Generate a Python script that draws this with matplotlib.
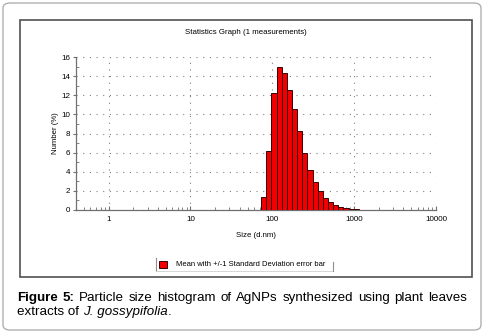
import numpy as np
import matplotlib
matplotlib.use("Agg")
import matplotlib.pyplot as plt
from matplotlib.patches import Rectangle, FancyBboxPatch
from matplotlib.ticker import FixedLocator, NullFormatter

plt.rcParams['font.family'] = ['Liberation Sans', 'DejaVu Sans']

# size classes (d.nm), left edges of the bars plus the last right edge
size_edges = [73.1, 84.5, 97.6, 112.8, 130.4, 150.7, 174.1, 201.2, 232.5, 268.7,
              310.6, 358.9, 414.7, 479.3, 553.9, 640.1, 739.7, 854.8, 988.2, 1142, 1320]
# number (%) in each class
number_pct = [1.33, 6.2, 12.2, 15.0, 14.3, 12.5, 10.6, 8.3, 6.0, 4.2,
              2.9, 1.95, 1.3, 0.8, 0.55, 0.35, 0.2, 0.15, 0.08, 0.03]

x_ticks = [1, 10, 100, 1000, 10000]
x_ticklabels = ['1', '10', '100', '1000', '10000']
y_ticks = [0, 2, 4, 6, 8, 10, 12, 14, 16]

W, H = 484, 336
fig = plt.figure(figsize=(W / 100, H / 100), dpi=100)
fig.patch.set_facecolor('white')

def fx(px):
    return px / W

def fy(py):
    return 1 - py / H

# outer rounded frame and inner chart box
fig.patches.append(FancyBboxPatch((fx(3), fy(330)), fx(478), (327) / H,
                                  boxstyle="round,pad=0,rounding_size=0.015",
                                  transform=fig.transFigure, fill=False,
                                  edgecolor='#b0b0b0', linewidth=1.0))
fig.patches.append(Rectangle((fx(20), fy(277)), fx(452), 257 / H,
                             transform=fig.transFigure, fill=False,
                             edgecolor='#505050', linewidth=1.2))

ax = fig.add_axes([fx(76), fy(210), fx(360), 153 / H])
edges = np.array(size_edges)
ax.bar(edges[:-1], number_pct, width=np.diff(edges), align='edge',
       color='#f00000', edgecolor='#3a0000', linewidth=0.7, zorder=3)

ax.set_xscale('log')
ax.set_xlim(0.4, 10000)
ax.set_ylim(0, 16)
ax.set_xticks(x_ticks)
ax.set_xticklabels(x_ticklabels)
ax.xaxis.set_minor_locator(FixedLocator([m * 10.0 ** e for e in range(-1, 4) for m in range(2, 10)]))
ax.xaxis.set_minor_formatter(NullFormatter())
ax.set_yticks(y_ticks)
ax.yaxis.set_minor_locator(FixedLocator([1, 3, 5, 7, 9, 11, 13, 15]))

for s in ['top', 'right']:
    ax.spines[s].set_visible(False)
for s in ['left', 'bottom']:
    ax.spines[s].set_color('#707070')
    ax.spines[s].set_linewidth(0.9)

ax.tick_params(axis='both', which='major', labelsize=5.8, colors='#707070',
               labelcolor='black', width=0.8)
ax.tick_params(axis='x', which='major', direction='in', length=3, pad=4)
ax.tick_params(axis='x', which='minor', direction='in', length=2, color='#707070')
ax.tick_params(axis='y', which='major', direction='out', length=2.5, pad=1.5)
ax.tick_params(axis='y', which='minor', direction='in', length=2, color='#707070')

ax.grid(True, which='major', linestyle=(0, (1, 5)), color='#808080', linewidth=0.8, zorder=0)
ax.set_axisbelow(True)

ax.set_xlabel('Size (d.nm)', fontsize=5.6, labelpad=7)
ax.set_ylabel('Number (%)', fontsize=5.6, labelpad=2)

fig.text(fx(246), fy(33), 'Statistics Graph (1 measurements)', ha='center', va='center', fontsize=5.7)

# legend
fig.patches.append(Rectangle((fx(159), fy(268)), fx(8), 7 / H, transform=fig.transFigure,
                             facecolor='#f00000', edgecolor='#3a0000', linewidth=0.7))
fig.text(fx(176), fy(264.5), 'Mean with +/-1 Standard Deviation error bar',
         ha='left', va='center', fontsize=5.5)
fig.lines.append(plt.Line2D([fx(156), fx(156)], [fy(258), fy(271)], transform=fig.transFigure,
                            color='#909090', linewidth=0.8))
fig.lines.append(plt.Line2D([fx(156), fx(333)], [fy(271), fy(271)], transform=fig.transFigure,
                            color='#d0d0d0', linewidth=0.6))
fig.lines.append(plt.Line2D([fx(333), fx(333)], [fy(262), fy(271)], transform=fig.transFigure,
                            color='#909090', linewidth=0.8))

# caption, first line justified
cap_size = 9.6
line1 = [('Figure', 'bold'), ('5:', 'bold'), ('Particle', 'normal'), ('size', 'normal'),
         ('histogram', 'normal'), ('of', 'normal'), ('AgNPs', 'normal'), ('synthesized', 'normal'),
         ('using', 'normal'), ('plant', 'normal'), ('leaves', 'normal')]
renderer = fig.canvas.get_renderer()
words = []
total = 0
for w, wt in line1:
    t = fig.text(0, fy(301), w, fontsize=cap_size, fontweight=wt, va='baseline', ha='left')
    bb = t.get_window_extent(renderer)
    words.append((t, bb.width))
    total += bb.width
left, right = 17, 467
gap = (right - left - total) / (len(words) - 1)
xpos = left
for t, wd in words:
    t.set_x(fx(xpos))
    xpos += wd + gap

t1 = fig.text(fx(17), fy(315), 'extracts of ', fontsize=cap_size, va='baseline', ha='left')
bb = t1.get_window_extent(renderer)
t2 = fig.text(fx(17 + bb.width), fy(315), 'J. gossypifolia', fontsize=cap_size,
              style='italic', va='baseline', ha='left')
bb2 = t2.get_window_extent(renderer)
fig.text(fx(17 + bb.width + bb2.width), fy(315), '.', fontsize=cap_size, va='baseline', ha='left')

fig.savefig('out.png', dpi=100)
